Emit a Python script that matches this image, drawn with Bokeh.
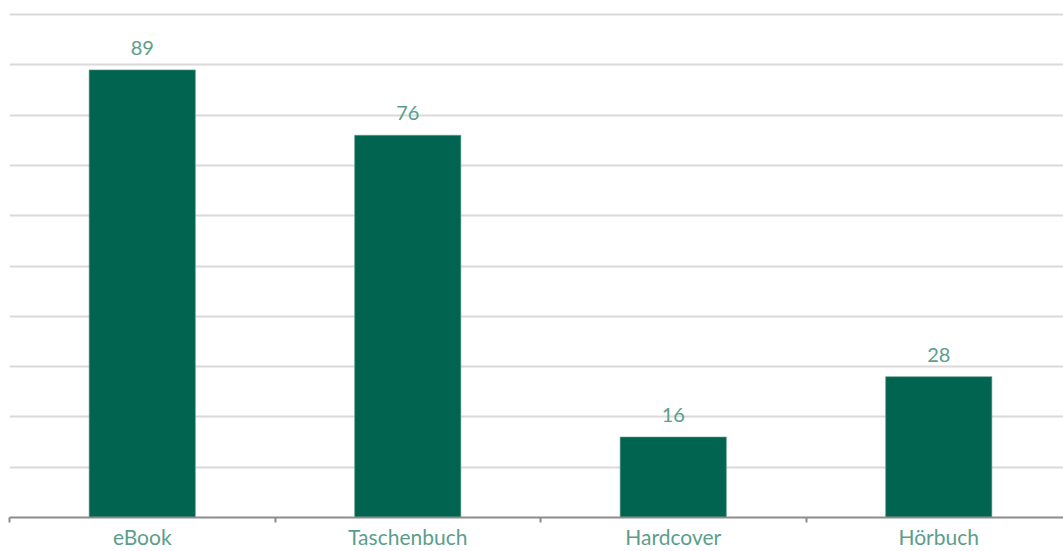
from bokeh.plotting import figure
from bokeh.models import ColumnDataSource, FixedTicker, Range1d
from bokeh.core.properties import value
from bokeh.embed import file_html
from bokeh.resources import INLINE

categories = ["eBook", "Taschenbuch", "Hardcover", "Hörbuch"]
values = [89, 76, 16, 28]

centers = [i + 0.5 for i in range(len(categories))]
src = ColumnDataSource(dict(x=centers, top=values, label=[str(v) for v in values], cat=categories))

W, H = 1063, 551
p = figure(width=W, height=H, output_backend="svg", toolbar_location=None,
           x_range=Range1d(0, 1054 / 265.5), y_range=Range1d(0, 102),
           min_border_left=9, min_border_right=0, min_border_top=4, min_border_bottom=34)
p.outline_line_color = None
p.background_fill_color = "white"
p.border_fill_color = "white"

p.vbar(x="x", top="top", bottom=0, width=0.40, source=src,
       fill_color="#006450", line_color="#5a9e8c", line_width=0.6)

p.text(x="x", y="top", text="label", source=src, text_align="center",
       text_baseline="alphabetic", y_offset=-22, text_font=value("Lato"),
       text_font_size="20px", text_color="#5a9e8c")

# axes
p.yaxis.visible = False
p.ygrid.ticker = FixedTicker(ticks=list(range(0, 101, 10)))
p.ygrid.grid_line_color = "#d9d9d9"
p.ygrid.grid_line_width = 2
p.xgrid.visible = False

xa = p.xaxis[0]
xa.ticker = FixedTicker(ticks=centers, minor_ticks=[0, 1, 2, 3, 4])
xa.major_label_overrides = {c: lab for c, lab in zip(centers, categories)}
xa.major_tick_line_color = None
xa.major_tick_out = 0
xa.minor_tick_in = 0
xa.minor_tick_out = 5
xa.minor_tick_line_color = "#8c8c8c"
xa.minor_tick_line_width = 2
xa.axis_line_color = "#8c8c8c"
xa.axis_line_width = 2
xa.major_label_text_font = "Lato"
xa.major_label_text_font_size = "21px"
xa.major_label_text_color = "#5a9e8c"
xa.major_label_standoff = 1

open("out.html", "w").write(file_html(p, INLINE))
